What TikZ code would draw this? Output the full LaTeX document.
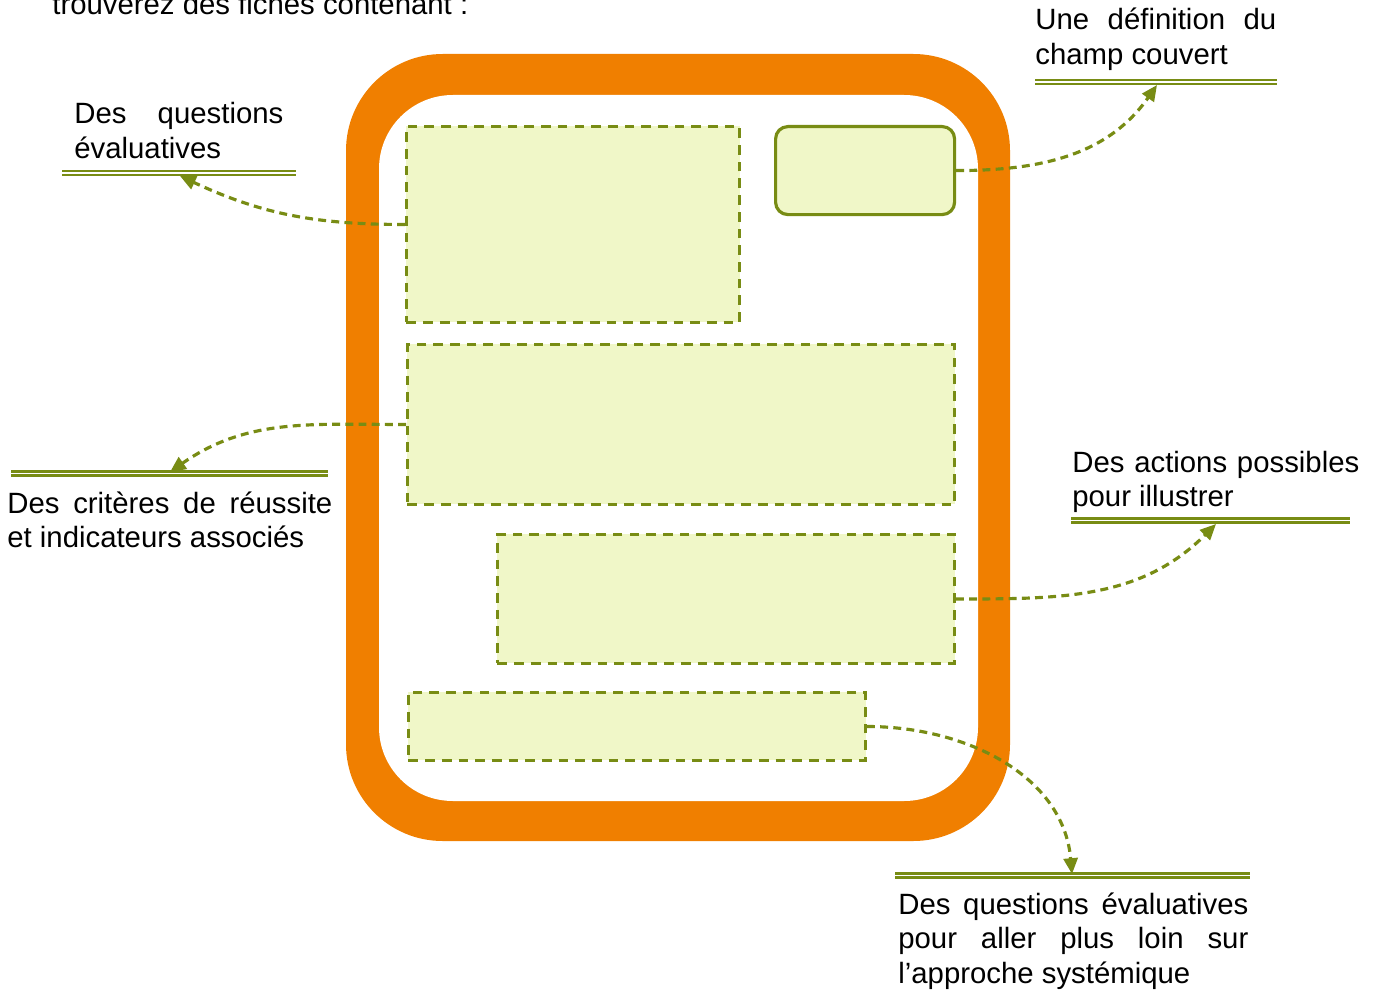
\documentclass[tikz,border=0pt]{standalone}
\usepackage{fontspec}
\setmainfont{Liberation Sans}
\usetikzlibrary{arrows.meta}

\definecolor{frameorange}{RGB}{240,127,0}
\definecolor{olivegreen}{RGB}{120,140,20}
\definecolor{paleyellow}{RGB}{240,247,200}

\newcommand{\capfont}{\fontsize{16.7}{19.9}\selectfont}
\hyphenpenalty=10000
\tolerance=9999

\tikzset{
  dashbox/.style={draw=olivegreen, fill=paleyellow, line width=1.7pt, dash pattern=on 5.5pt off 4pt},
  solidbox/.style={draw=olivegreen, fill=paleyellow, line width=1.8pt, rounded corners=7pt},
  pointer/.style={draw=olivegreen, line width=1.8pt, dash pattern=on 4.5pt off 3pt, -{Triangle[length=9pt,width=8pt]}},
  underline/.style={draw=olivegreen, line width=1.2pt, double=white, double distance=1.1pt},
  caption/.style={anchor=base west, inner sep=0pt, align=justify, font=\capfont}
}

\begin{document}
\begin{tikzpicture}[x=0.02cm, y=-0.02cm, >=Stealth]
    \useasboundingbox (0,0) rectangle (1373,990);

    % Top line of text (cut off by the page)
    \node[anchor=base west, inner sep=0pt, font=\capfont] (intro) at (52,15) {trouverez des fiches contenant :};

    % Orange frame
    \fill[frameorange, rounded corners=55] (346,54) rectangle (1010,841);
    \fill[white, rounded corners=42] (379,95) rectangle (978,801);

    % Boxes inside the frame
    \node[dashbox, minimum width=333*0.02cm, minimum height=196*0.02cm, anchor=north west] (boxq) at (405,125) {};
    \node[solidbox, minimum width=179*0.02cm, minimum height=88*0.02cm, anchor=north west] (boxdef) at (774,125) {};
    \node[dashbox, minimum width=547*0.02cm, minimum height=160*0.02cm, anchor=north west] (boxcrit) at (406,343) {};
    \node[dashbox, minimum width=457*0.02cm, minimum height=129*0.02cm, anchor=north west] (boxact) at (496,533) {};
    \node[dashbox, minimum width=457*0.02cm, minimum height=68*0.02cm, anchor=north west] (boxsys) at (407,691) {};

    % Captions
    \node[caption, text width=209*0.02cm] (capq) at (74,124) {Des questions évaluatives};
    \node[caption, text width=241*0.02cm] (capdef) at (1035,30) {Une définition du champ couvert};
    \node[caption, text width=325*0.02cm] (capcrit) at (7,513) {Des critères de réussite et indicateurs associés};
    \node[caption, text width=287*0.02cm] (capact) at (1072,472) {Des actions possibles pour illustrer};
    \node[caption, text width=350*0.02cm] (capsys) at (898,914) {Des questions évaluatives pour aller plus loin sur l’approche systémique};

    % Double rules under / over the captions
    \draw[underline] (62,173) -- (296,173);
    \draw[underline] (1035,82) -- (1277,82);
    \draw[underline] (11,473.5) -- (328,473.5);
    \draw[underline] (1071,520.5) -- (1350,520.5);
    \draw[underline] (895,875.5) -- (1250,875.5);

    % Arrow ends on the rules
    \coordinate (tipq) at (180,176);
    \coordinate (tipdef) at (1157,85);
    \coordinate (tipcrit) at (170,472);
    \coordinate (tipact) at (1216,524);
    \coordinate (tipsys) at (1072,874);

    % Pointers
    \draw[pointer] (boxq.west) to[out=180, in=-25] (tipq);
    \draw[pointer] (boxdef.east) to[out=0, in=-125] (tipdef);
    \draw[pointer] (boxcrit.west) to[out=180, in=35] (tipcrit);
    \draw[pointer] (boxact.east) to[out=0, in=-135] (tipact);
    \draw[pointer] (boxsys.east) to[out=0, in=95] (tipsys);
\end{tikzpicture}
\end{document}
